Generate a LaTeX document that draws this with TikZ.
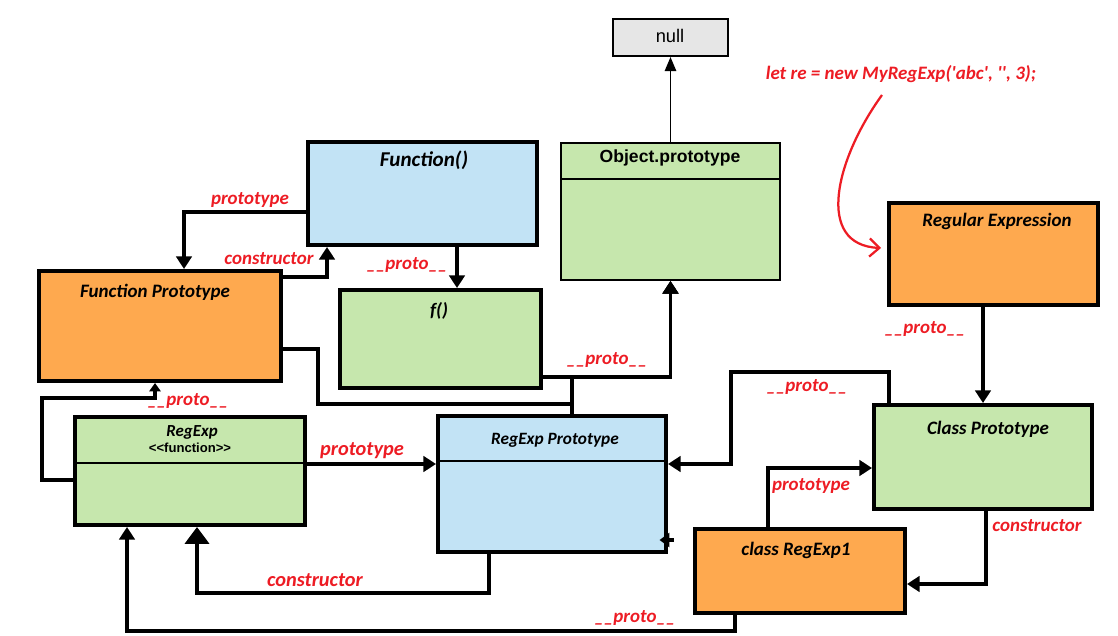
\documentclass[tikz,border=0pt]{standalone}
\usepackage{fontspec}
\usepackage{tikz}
\usetikzlibrary{arrows.meta}
\usetikzlibrary{fit}
\newfontfamily\calibrifont{Carlito}
\newfontfamily\arialfont{Liberation Sans}
\definecolor{boxblue}{HTML}{C2E3F5}
\definecolor{boxgreen}{HTML}{C6E7AD}
\definecolor{boxorange}{HTML}{FEA94F}
\definecolor{boxgray}{HTML}{E6E6E6}
\definecolor{labelred}{HTML}{ED1C24}
\tikzset{
	bluestyle/.style={rectangle,draw=black,line width=2.8pt,fill=boxblue,inner sep=0pt},
	greenstyle/.style={rectangle,draw=black,line width=2.8pt,fill=boxgreen,inner sep=0pt},
	orangestyle/.style={rectangle,draw=black,line width=2.8pt,fill=boxorange,inner sep=0pt},
	thinstyle/.style={rectangle,draw=black,line width=1.4pt,inner sep=0pt},
	titlestyle/.style={font=\calibrifont\bfseries\itshape\fontsize{13.5}{16}\selectfont},
	arialstyle/.style={font=\arialfont\bfseries\fontsize{12.5}{15}\selectfont},
	redstyle/.style={text=labelred,font=\calibrifont\bfseries\itshape\fontsize{13.5}{16}\selectfont},
	linkstyle/.style={line width=2.8pt,-{Triangle[length=9pt,width=11pt]}},
	biglinkstyle/.style={line width=2.8pt,-{Triangle[length=12pt,width=17pt]}},
	smalllinkstyle/.style={line width=2.8pt,-{Triangle[length=6pt,width=8pt]}},
	thinlinkstyle/.style={line width=1.4pt,-{Triangle[length=10pt,width=8pt]}},
	handstyle/.style={draw=labelred,line width=1.6pt,-{Straight Barb[length=7pt,width=13pt]}}
}
\begin{document}
\begin{tikzpicture}[x=0.025cm,y=-0.025cm]
	\useasboundingbox (0,0) rectangle (1118,636);
	% boxes
	\node[thinstyle,fill=boxgray,fit={(613,19) (728,56)}] (nul) {};
	\node[thinstyle,fill=boxgreen,fit={(561,143) (780,280)}] (objproto) {};
	\node[bluestyle,fit={(308,142) (537,245)}] (func) {};
	\node[orangestyle,fit={(39,271) (281,381)}] (funcproto) {};
	\node[greenstyle,fit={(340,290) (541,388)}] (f) {};
	\node[orangestyle,fit={(889,203) (1098,305)}] (regex) {};
	\node[greenstyle,fit={(75,417) (305,525)}] (regexp) {};
	\node[bluestyle,fit={(438,416) (666,552)}] (regexpproto) {};
	\node[greenstyle,fit={(874,405) (1092,509)}] (classproto) {};
	\node[orangestyle,fit={(695,529) (905,613)}] (classre) {};
	\draw[line width=1.4pt] (objproto.west |- 0,179) -- (objproto.east |- 0,179);
	\draw[line width=0.8pt] (regexp.west |- 0,463) -- (regexp.east |- 0,463);
	\draw[line width=0.8pt] (regexpproto.west |- 0,461) -- (regexpproto.east |- 0,461);
	% titles
	\node[font=\arialfont\fontsize{13}{15}\selectfont] (nultitle) at (670,36) {null};
	\node[arialstyle] (objtitle) at (670,158) {Object.prototype};
	\node[titlestyle,font=\calibrifont\bfseries\itshape\fontsize{15}{18}\selectfont] (functitle) at (424,160) {Function()};
	\node[titlestyle] (fptitle) at (155,292) {Function Prototype};
	\node[titlestyle] (ftitle) at (439,311) {f()};
	\node[titlestyle] (regextitle) at (997,221) {Regular Expression};
	\node[titlestyle,font=\calibrifont\bfseries\itshape\fontsize{12}{14}\selectfont] (regexptitle) at (192,432) {RegExp};
	\node[font=\arialfont\bfseries\fontsize{9.3}{11}\selectfont] (regexpsub) at (190,448) {<<function>>};
	\node[titlestyle,font=\calibrifont\bfseries\itshape\fontsize{12.3}{15}\selectfont] (rptitle) at (555,440) {RegExp Prototype};
	\node[titlestyle] (cptitle) at (988,429) {Class Prototype};
	\node[titlestyle] (crtitle) at (796,550) {class RegExp1};
	% links
	\draw[thinlinkstyle] (objproto.north) -- (nul.south);
	\draw[linkstyle] (func.west |- 0,212) -| (funcproto.north -| 184,0);
	\draw[linkstyle] (funcproto.east |- 0,277) -| (func.south -| 327,0);
	\draw[linkstyle] (func.south -| 457,0) -- (f.north -| 457,0);
	\draw[linkstyle] (f.east |- 0,377) -| (objproto.south);
	\draw[linkstyle] (funcproto.east |- 0,349) -| (318,404) -| (572,377) -| (objproto.south);
	\draw[linkstyle] (regexpproto.north -| 572,0) |- (objproto.south |- 0,377) -- (objproto.south);
	\draw[smalllinkstyle] (regexp.west |- 0,480) -| (42,398) -| (funcproto.south -| 155,0);
	\draw[linkstyle] (regexp.east |- 0,464) -- (regexpproto.west |- 0,464);
	\draw[biglinkstyle] (regexpproto.south -| 489,0) -- ++(0,39) -| (regexp.south -| 197,0);
	\draw[linkstyle] (classre.south -| 735,0) -- ++(0,16) -| (regexp.south -| 127,0);
	\draw[linkstyle] (classproto.north -| 889,0) -- ++(0,-31) -| (731,464) -- (regexpproto.east |- 0,464);
	\draw[linkstyle] (classre.north -| 768,0) |- (classproto.west |- 0,468);
	\draw[linkstyle] (classproto.south -| 986,0) |- (classre.east |- 0,584);
	\draw[linkstyle] (regex.south -| 983,0) -- (classproto.north -| 983,0);
	\draw[smalllinkstyle,-{Triangle[length=7pt,width=10pt]},shorten >=-6pt] (regexpproto.east |- 0,540) ++(6,0) -- (regexpproto.east |- 0,540);
	% labels
	\node[redstyle] (protolbl) at (250,200) {prototype};
	\node[redstyle] (conslbl) at (269,259) {constructor};
	\node[redstyle] (funclbl) at (407,265) {\_\_proto\_\_};
	\node[redstyle] (flbl) at (607,360) {\_\_proto\_\_};
	\node[redstyle] (fplbl) at (188,401) {\_\_proto\_\_};
	\node[redstyle,font=\calibrifont\bfseries\itshape\fontsize{14.5}{17}\selectfont] (rxprotolbl) at (362,451) {prototype};
	\node[redstyle,font=\calibrifont\bfseries\itshape\fontsize{14.5}{17}\selectfont] (rxconslbl) at (315,580) {constructor};
	\node[redstyle] (crlbl) at (635,618) {\_\_proto\_\_};
	\node[redstyle] (cplbl) at (807,387) {\_\_proto\_\_};
	\node[redstyle] (crprotolbl) at (811,486) {prototype};
	\node[redstyle] (cpconslbl) at (1037,526) {constructor};
	\node[redstyle] (regexlbl) at (925,329) {\_\_proto\_\_};
	% hand drawn note
	\node[redstyle] (code) at (901,74) {let re = new MyRegExp('abc', '', 3);};
	\coordinate (curvestart) at (882,95);
	\coordinate (curveend) at (881,248);
	\draw[handstyle] (curvestart) .. controls (835,160) and (815,245) .. (curveend);
\end{tikzpicture}
\end{document}
